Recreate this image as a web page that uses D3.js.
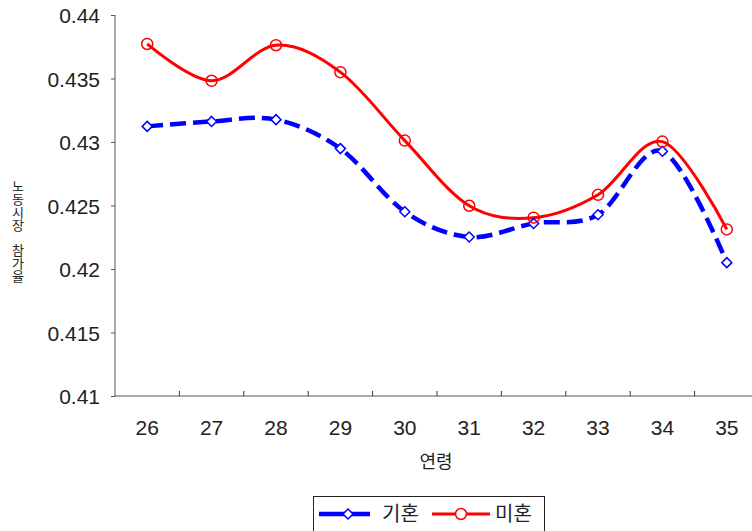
<!DOCTYPE html>
<html>
<head>
<meta charset="utf-8">
<script src="https://cdn.jsdelivr.net/npm/d3@7"></script>
<style>
  body { margin: 0; background: #fff; }
  svg { display: block; }
</style>
</head>
<body>
<svg id="chart" width="752" height="531"></svg>
<script>
const categories = ["26", "27", "28", "29", "30", "31", "32", "33", "34", "35"];
const married   = [0.43123, 0.43162, 0.43176, 0.42948, 0.42451, 0.42252, 0.42359, 0.42427, 0.42927, 0.42050];
const unmarried = [0.43772, 0.43482, 0.43762, 0.43550, 0.43011, 0.42498, 0.42404, 0.42584, 0.43003, 0.42312];
const yTicks = [0.41, 0.415, 0.42, 0.425, 0.43, 0.435, 0.44];
const yTickLabels = ["0.41", "0.415", "0.42", "0.425", "0.43", "0.435", "0.44"];
const seriesNames = ["기혼", "미혼"];
const xTitle = "연령";
const yTitle = "노동시장 참가율";

const svg = d3.select("#chart");
const numFont = "'Liberation Sans', Arial, sans-serif";
const krFont = "'Noto Sans CJK KR', sans-serif";

const x = d3.scaleBand().domain(categories).range([115, 759]).padding(0);
const y = d3.scaleLinear().domain([0.41, 0.44]).range([396, 15]);
const cx = d => x(d) + x.bandwidth() / 2;

// Y axis
const yAxis = d3.axisLeft(y).tickValues(yTicks).tickSize(4)
  .tickFormat((d, i) => yTickLabels[i]);
const gy = svg.append("g").attr("transform", "translate(115,0)").call(yAxis);
gy.select(".domain").attr("stroke", "#555").attr("d", "M0,15V396");
gy.selectAll(".tick line").attr("stroke", "#555");
gy.selectAll(".tick text").attr("font-family", numFont).attr("font-size", 21)
  .attr("fill", "#222").attr("x", -15).attr("dy", "0.36em");

// X axis
const xAxis = d3.axisBottom(x).tickSize(0).tickFormat(d => d);
const gx = svg.append("g").attr("transform", "translate(0,396)").call(xAxis);
gx.select(".domain").attr("stroke", "#555").attr("d", "M115,0H752");
gx.selectAll(".tick text").attr("font-family", numFont).attr("font-size", 21)
  .attr("fill", "#222").attr("y", 39).attr("dy", 0);
// inner tick marks at category boundaries
svg.append("g").selectAll("line").data(categories.slice(1)).join("line")
  .attr("x1", d => x(d)).attr("x2", d => x(d))
  .attr("y1", 396).attr("y2", 391).attr("stroke", "#333").attr("stroke-width", 1);

// Axis titles
svg.append("text").attr("x", 436).attr("y", 468).attr("text-anchor", "middle")
  .attr("font-family", krFont).attr("font-size", 18).attr("fill", "#222").text(xTitle);

svg.append("text").attr("x", 18).attr("y", 180)
  .attr("font-family", krFont).attr("font-size", 13).attr("fill", "#222")
  .style("writing-mode", "vertical-rl").style("text-orientation", "upright")
  .style("letter-spacing", "-0.2px")
  .text(yTitle);

// Lines
const line = d3.line().x((d, i) => cx(categories[i])).y(d => y(d))
  .curve(d3.curveCardinal.tension(0));

svg.append("path").datum(married).attr("d", line)
  .attr("fill", "none").attr("stroke", "#0000ff").attr("stroke-width", 4.5)
  .attr("stroke-dasharray", "16,7");
svg.append("path").datum(unmarried).attr("d", line)
  .attr("fill", "none").attr("stroke", "#ff0000").attr("stroke-width", 3);

const diamond = (px, py, r) => `M${px},${py - r}L${px + r},${py}L${px},${py + r}L${px - r},${py}Z`;

svg.append("g").selectAll("path").data(married).join("path")
  .attr("d", (d, i) => diamond(cx(categories[i]), y(d), 5))
  .attr("fill", "#fff").attr("stroke", "#0000ff").attr("stroke-width", 1.5);

svg.append("g").selectAll("circle").data(unmarried).join("circle")
  .attr("cx", (d, i) => cx(categories[i])).attr("cy", d => y(d)).attr("r", 5.5)
  .attr("fill", "none").attr("stroke", "#ff0000").attr("stroke-width", 1.5);

// Legend
const lg = svg.append("g");
lg.append("rect").attr("x", 313.5).attr("y", 496.5).attr("width", 231).attr("height", 40)
  .attr("fill", "#fff").attr("stroke", "#222").attr("stroke-width", 1);
lg.append("line").attr("x1", 319).attr("x2", 370).attr("y1", 514).attr("y2", 514)
  .attr("stroke", "#0000ff").attr("stroke-width", 4.5);
lg.append("path").attr("d", diamond(348, 514, 5))
  .attr("fill", "#fff").attr("stroke", "#0000ff").attr("stroke-width", 1.5);
lg.append("text").attr("x", 382).attr("y", 521).attr("font-family", krFont)
  .attr("font-size", 20).attr("fill", "#222").text(seriesNames[0]);
lg.append("line").attr("x1", 432).attr("x2", 490).attr("y1", 514).attr("y2", 514)
  .attr("stroke", "#ff0000").attr("stroke-width", 3);
lg.append("circle").attr("cx", 461).attr("cy", 514).attr("r", 5.5)
  .attr("fill", "#fff").attr("stroke", "#ff0000").attr("stroke-width", 1.5);
lg.append("text").attr("x", 495).attr("y", 521).attr("font-family", krFont)
  .attr("font-size", 20).attr("fill", "#222").text(seriesNames[1]);
</script>
</body>
</html>
